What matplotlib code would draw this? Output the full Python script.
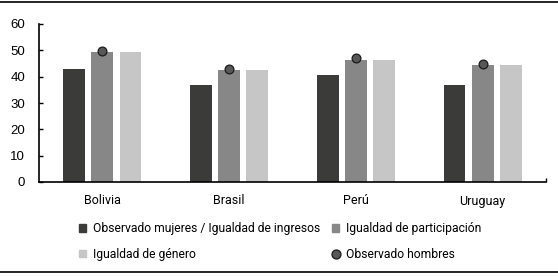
import matplotlib
matplotlib.use("Agg")
import matplotlib.pyplot as plt
from matplotlib.lines import Line2D
from matplotlib.patches import Patch
import numpy as np

categories = ["Bolivia", "Brasil", "Perú", "Uruguay"]
obs_mujeres = [43.0, 36.8, 40.8, 36.7]
ig_participacion = [49.2, 42.6, 46.5, 44.4]
ig_genero = [49.2, 42.6, 46.5, 44.4]
obs_hombres = [49.9, 42.8, 47.0, 44.7]
yticks = [0, 10, 20, 30, 40, 50, 60]

c_dark = "#3b3b39"
c_mid = "#878787"
c_light = "#c6c6c6"
c_dot = "#575757"

plt.rcParams['font.family'] = ['Roboto', 'DejaVu Sans']

fig = plt.figure(figsize=(5.58, 2.76), dpi=100)
ax = fig.add_axes([39/558, 1 - 182/276, (546-39)/558, (182-24)/276])

x = np.arange(len(categories))
w = 0.173
off = 0.222
ax.bar(x - off, obs_mujeres, w, color=c_dark, label="Observado mujeres / Igualdad de ingresos")
ax.bar(x, ig_participacion, w, color=c_mid, label="Igualdad de participación")
ax.bar(x + off, ig_genero, w, color=c_light, label="Igualdad de género")
ax.scatter(x, obs_hombres, s=40, color=c_dot, edgecolor="#1a1a1a", linewidth=0.9, zorder=5,
           label="Observado hombres")

ax.set_xlim(-0.5, 3.5)
ax.set_ylim(0, 60)
ax.set_yticks(yticks)
ax.set_xticks(x)
ax.set_xticklabels(categories, fontsize=9)
ax.set_xticks([3.5], minor=True)
ax.tick_params(axis='x', which='major', length=0, pad=9)
ax.tick_params(axis='x', which='minor', direction='in', length=3, width=1)
ax.tick_params(axis='y', direction='in', length=3, width=1, pad=10, labelsize=9.5)
for lbl in ax.get_yticklabels():
    lbl.set_family(['Liberation Sans', 'DejaVu Sans'])
for s in ['top', 'right']:
    ax.spines[s].set_visible(False)
for s in ['left', 'bottom']:
    ax.spines[s].set_linewidth(1.2)

h = [Patch(color=c_dark), Patch(color=c_light), Patch(color=c_mid),
     Line2D([], [], marker='o', linestyle='none', markersize=6.5, markerfacecolor=c_dot,
            markeredgecolor="#1a1a1a", markeredgewidth=0.9)]
l = ["Observado mujeres / Igualdad de ingresos", "Igualdad de género",
     "Igualdad de participación", "Observado hombres"]
fig.legend(h, l, ncol=2, frameon=False, loc='upper left',
           bbox_to_anchor=(79/558, 1 - 222/276), fontsize=8.7,
           borderpad=0, borderaxespad=0,
           handlelength=0.62, handleheight=0.62, handletextpad=0.55,
           columnspacing=0.95, labelspacing=1.05)

fig.add_artist(Line2D([0, 1], [1 - 2/276, 1 - 2/276], transform=fig.transFigure, color='black', lw=1.2))
fig.add_artist(Line2D([0, 1], [1 - 272/276, 1 - 272/276], transform=fig.transFigure, color='black', lw=1.2))

fig.savefig("out.png", dpi=100)
